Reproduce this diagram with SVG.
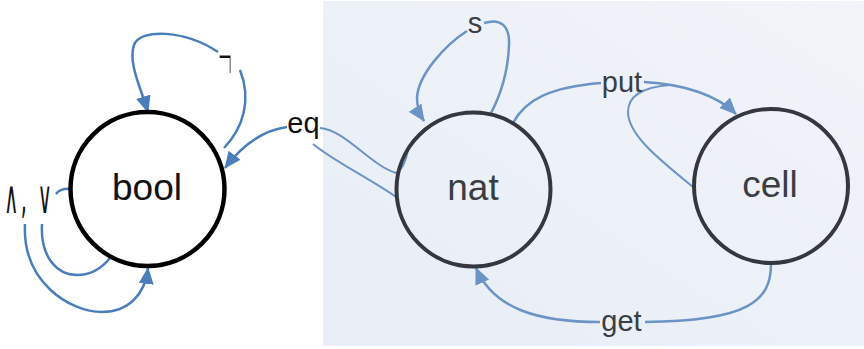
<svg xmlns="http://www.w3.org/2000/svg" width="864" height="349" viewBox="0 0 864 349">
  <defs>
    <linearGradient id="panelFill" x1="1" y1="0" x2="0" y2="1">
      <stop offset="0" stop-color="#f1f4f9"/>
      <stop offset="1" stop-color="#e8edf6"/>
    </linearGradient>
    <marker id="arrowDark" viewBox="0 0 17 15" refX="16" refY="7.5" markerWidth="17" markerHeight="15" markerUnits="userSpaceOnUse" orient="auto">
      <path d="M0,0 L17,7.5 L0,15 Z" fill="#4a7ebb"/>
    </marker>
    <marker id="arrowLight" viewBox="0 0 17 15" refX="16" refY="7.5" markerWidth="17" markerHeight="15" markerUnits="userSpaceOnUse" orient="auto">
      <path d="M0,0 L17,7.5 L0,15 Z" fill="#6b93c6"/>
    </marker>
  </defs>
  <style>
    .edge { fill: none; stroke: #4a7ebb; stroke-width: 2.5; }
    .edge.lt { stroke: #6b93c6; }
    .edge.thin { stroke-width: 2; }
    .node { fill: none; stroke-width: 4.5; }
    .node.dark { stroke: #000000; }
    .node.lt { stroke: #34383e; stroke-width: 4; }
    .name { font-family: "Liberation Sans", Arial, sans-serif; font-size: 37px; text-anchor: middle; }
    .lbl { font-family: "Liberation Sans", Arial, sans-serif; font-size: 29px; text-anchor: middle; }
    .sym { font-family: "DejaVu Sans", "Liberation Sans", sans-serif; text-anchor: start; }
    .neg { font-family: Roboto, "Liberation Sans", sans-serif; font-weight: 100; font-size: 100px; text-anchor: start; }
    .ink { fill: #111111; }
    .ink.lt { fill: #3a3e44; }
  </style>

  <!-- canvas and shaded right-hand panel -->
  <rect x="0" y="0" width="864" height="349" fill="#ffffff"/>
  <rect x="323" y="1" width="541" height="345" fill="url(#panelFill)"/>

  <!-- connectors -->
  <g id="connectors">
    <!-- negation loop on bool -->
    <path class="edge" d="M218,52 C185,30 140,28 134,45 C128,62 140,86 148,112" marker-end="url(#arrowDark)"/>
    <path class="edge" d="M240,70 C252,100 243,128 224,148"/>
    <!-- and / or loop on bool -->
    <path class="edge" d="M56,194 Q60,188 72,189"/>
    <path class="edge" d="M42,224 C40,258 58,275 77,275 C92,275 102,268 110,258"/>
    <path class="edge" d="M25,224 C22,282 70,312 102,312 C128,312 145,295 148,268" marker-end="url(#arrowDark)"/>
    <!-- eq : nat x nat -> bool -->
    <path class="edge" d="M287,127 C265,130 243,144 225,168" marker-end="url(#arrowDark)"/>
    <path class="edge lt thin" d="M320,128 C345,130 370,165 396,173 C402,170 406,160 408,150"/>
    <path class="edge lt thin" d="M313,144 C332,160 372,180 396,197 C398,210 402,222 408,230"/>
    <!-- successor loop on nat -->
    <path class="edge lt" d="M467,31 C445,45 418,75 417,98 C417,108 420,115 424,121" marker-end="url(#arrowLight)"/>
    <path class="edge lt" d="M484,23 C500,18 510,25 509,45 C508,75 498,100 490,115"/>
    <!-- put : nat x cell -> cell -->
    <path class="edge lt" d="M513,123 C525,100 550,87 601,83"/>
    <path class="edge lt thin" d="M693,187 C660,160 628,135 628,112 C628,95 645,87 670,85"/>
    <path class="edge lt" d="M644,82 C685,84 718,96 736,114" marker-end="url(#arrowLight)"/>
    <!-- get : cell -> nat -->
    <path class="edge lt" d="M771,264 C771,300 750,321 645,322"/>
    <path class="edge lt" d="M600,322 C540,322 494,310 476,268" marker-end="url(#arrowLight)"/>
  </g>

  <!-- edge labels -->
  <g id="labels">
    <text class="neg ink" x="218" y="92" textLength="15" lengthAdjust="spacingAndGlyphs">¬</text>
    <text class="sym ink" transform="translate(0,213) scale(0.42,1)" style="font-size:46px"><tspan x="10">∧</tspan><tspan dx="6">,</tspan> <tspan x="90">∨</tspan></text>
    <text class="lbl ink" x="303.5" y="133">eq</text>
    <text class="lbl ink lt" x="475" y="33">s</text>
    <text class="lbl ink lt" x="622" y="92">put</text>
    <text class="lbl ink lt" x="621.5" y="331">get</text>
  </g>

  <!-- nodes -->
  <g id="node-bool">
    <circle class="node dark" cx="147.5" cy="189" r="77"/>
    <text class="name ink" x="147" y="200">bool</text>
  </g>
  <g id="node-nat">
    <circle class="node lt" cx="473.5" cy="189.5" r="77"/>
    <text class="name ink lt" x="473" y="200">nat</text>
  </g>
  <g id="node-cell">
    <circle class="node lt" cx="771" cy="186" r="77"/>
    <text class="name ink lt" x="770" y="197">cell</text>
  </g>
</svg>
